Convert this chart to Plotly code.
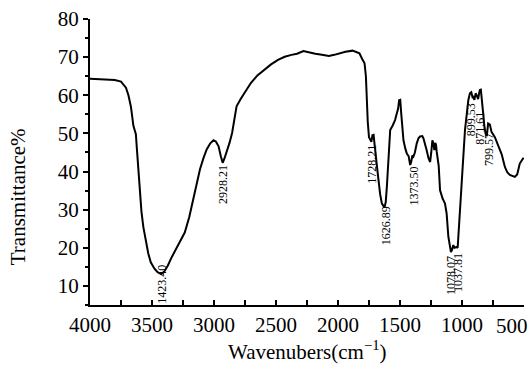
import plotly.graph_objects as go

wavenumber = [4000, 3900, 3800, 3750, 3710, 3690, 3670, 3650, 3640, 3630, 3622, 3610, 3600, 3585, 3570,
              3550, 3530, 3510, 3480, 3455, 3425, 3400, 3373, 3340, 3305, 3270, 3236, 3200, 3168, 3140,
              3113, 3085, 3059, 3030, 3004, 2985, 2963, 2945, 2930, 2915, 2895, 2875, 2854, 2835, 2818,
              2785, 2740, 2703, 2650, 2593, 2540, 2484, 2430, 2375, 2330, 2279, 2230, 2183, 2130, 2073,
              2030, 1991, 1940, 1882, 1850, 1827, 1805, 1786, 1775, 1767, 1760, 1750, 1740, 1731, 1722,
              1713, 1704, 1690, 1677, 1660, 1646, 1625, 1615, 1606, 1595, 1585, 1579, 1560, 1540, 1526,
              1515, 1507, 1498, 1490, 1480, 1472, 1457, 1445, 1430, 1418, 1410, 1400, 1392, 1380, 1365,
              1350, 1338, 1320, 1311, 1295, 1285, 1270, 1257, 1248, 1239, 1231, 1223, 1215, 1209, 1204,
              1196, 1188, 1177, 1164, 1155, 1150, 1137, 1124, 1110, 1096, 1089, 1080, 1070, 1060, 1044,
              1035, 1030, 1018, 1003, 990, 976, 960, 949, 936, 925, 915, 909, 900, 890, 883,
              870, 862, 856, 848, 840, 829, 820, 810, 800, 795, 789, 775, 762, 735, 708,
              680, 654, 635, 614, 590, 574, 555, 534, 508, 503]
transmittance = [64.3, 64.2, 64.0, 63.6, 62.0, 60.0, 57.0, 52.0, 50.5, 49.8, 46.0, 40.0, 35.5, 29.5, 25.5,
                 21.5, 18.5, 16.2, 14.5, 13.6, 13.1, 13.8, 15.3, 17.6, 19.7, 21.8, 24.0, 28.0, 32.7, 36.8,
                 40.6, 43.5, 45.8, 47.4, 48.2, 47.9, 46.6, 44.0, 42.3, 43.5, 45.3, 47.5, 50.1, 54.0, 57.1,
                 59.0, 61.5, 63.2, 65.2, 66.7, 68.1, 69.3, 70.1, 70.6, 70.9, 71.6, 71.2, 70.9, 70.6, 70.3,
                 70.6, 71.0, 71.4, 71.7, 71.4, 71.0, 69.5, 68.4, 65.0, 58.0, 53.0, 49.0, 48.2, 47.8, 49.5,
                 49.6, 46.8, 42.0, 38.8, 34.0, 31.6, 30.6, 32.0, 36.0, 41.0, 47.0, 50.9, 52.0, 53.5, 55.2,
                 56.5, 58.7, 58.8, 55.2, 52.0, 48.2, 46.0, 44.7, 44.0, 41.7, 42.5, 44.2, 43.9, 45.0, 47.4,
                 48.8, 49.2, 49.3, 48.7, 47.0, 45.6, 43.5, 42.5, 45.0, 48.2, 47.4, 45.6, 47.5, 46.9, 45.2,
                 43.0, 41.5, 35.1, 33.4, 32.8, 32.5, 31.6, 29.0, 22.9, 20.2, 18.9, 19.5, 20.7, 20.0, 20.2,
                 20.0, 22.9, 28.0, 37.7, 44.0, 50.9, 55.5, 58.7, 60.5, 60.8, 59.5, 59.6, 58.8, 60.5, 60.1,
                 59.0, 60.5, 61.4, 61.5, 58.0, 55.2, 52.0, 50.0, 49.3, 51.5, 52.6, 52.3, 50.4, 49.0, 46.5,
                 44.5, 41.2, 39.8, 39.1, 38.7, 38.6, 39.2, 42.1, 43.4, 43.6]

peak_labels = ["1423.40", "2928.21", "1728.21", "1626.89", "1373.50", "1078.07", "1037.81",
               "899.53", "871.61", "799.57"]
peak_label_x = [3420, 2922, 1723, 1617, 1390, 1094, 1028, 925, 851, 788]
peak_label_y = [16.2, 42.3, 47.5, 31.4, 41.9, 18.3, 19.2, 58.4, 56.2, 50.6]

x_tickvals = [4000, 3500, 3000, 2500, 2000, 1500, 1000, 500]
x_ticktext = ["4000", "3500", "3000", "2500", "2000", "1500", "1000", ""]
last_tick_label = "500"
y_tickvals = [10, 20, 30, 40, 50, 60, 70, 80]

FONT = "Liberation Serif"

fig = go.Figure()
fig.add_trace(go.Scatter(x=wavenumber, y=transmittance, mode="lines",
                         line=dict(color="black", width=2), showlegend=False, hoverinfo="skip"))

for t, x, y in zip(peak_labels, peak_label_x, peak_label_y):
    fig.add_annotation(x=x, y=y, text=t, textangle=-90, showarrow=False,
                       xanchor="center", yanchor="top",
                       font=dict(family=FONT, size=12, color="black"))

# last x tick label, nudged inside the window as in the reference
fig.add_annotation(x=x_tickvals[-1], xref="x", yref="paper", y=0, yshift=-7,
                   text=last_tick_label, showarrow=False, xanchor="right", yanchor="top", xshift=6,
                   font=dict(family=FONT, size=21, color="black"))

fig.add_annotation(xref="paper", yref="paper", x=0.5, y=-0.105, text="Wavenubers(cm<sup>−1</sup>)",
                   showarrow=False, xanchor="center", yanchor="top",
                   font=dict(family=FONT, size=21, color="black"))
fig.add_annotation(xref="paper", yref="paper", x=-0.166, y=0.38, text="Transmittance%",
                   textangle=-90, showarrow=False, xanchor="center", yanchor="middle",
                   font=dict(family=FONT, size=21, color="black"))

fig.update_layout(
    width=532, height=365,
    margin=dict(l=90, r=8, t=19, b=60),
    paper_bgcolor="white", plot_bgcolor="white",
    font=dict(family=FONT, size=21, color="black"),
    xaxis=dict(range=[4000, 500], tickvals=x_tickvals, ticktext=x_ticktext,
               showgrid=False, zeroline=False, showline=True, linecolor="black", linewidth=2,
               ticks="inside", ticklen=5, tickwidth=2, tickcolor="black",
               minor=dict(dtick=250, ticks="inside", ticklen=5, tickwidth=2, tickcolor="black"),
               tickfont=dict(family=FONT, size=21)),
    yaxis=dict(range=[5, 80], tickvals=y_tickvals,
               showgrid=False, zeroline=False, showline=True, linecolor="black", linewidth=2,
               ticks="outside", ticklen=5, tickwidth=2, tickcolor="black",
               minor=dict(dtick=5, tick0=5, ticks="outside", ticklen=3, tickwidth=1.5, tickcolor="black"),
               tickfont=dict(family=FONT, size=21)),
)

fig.write_html("out.html", config={"displayModeBar": False},
               post_script="document.body.style.margin='0';document.body.style.overflow='hidden';")
